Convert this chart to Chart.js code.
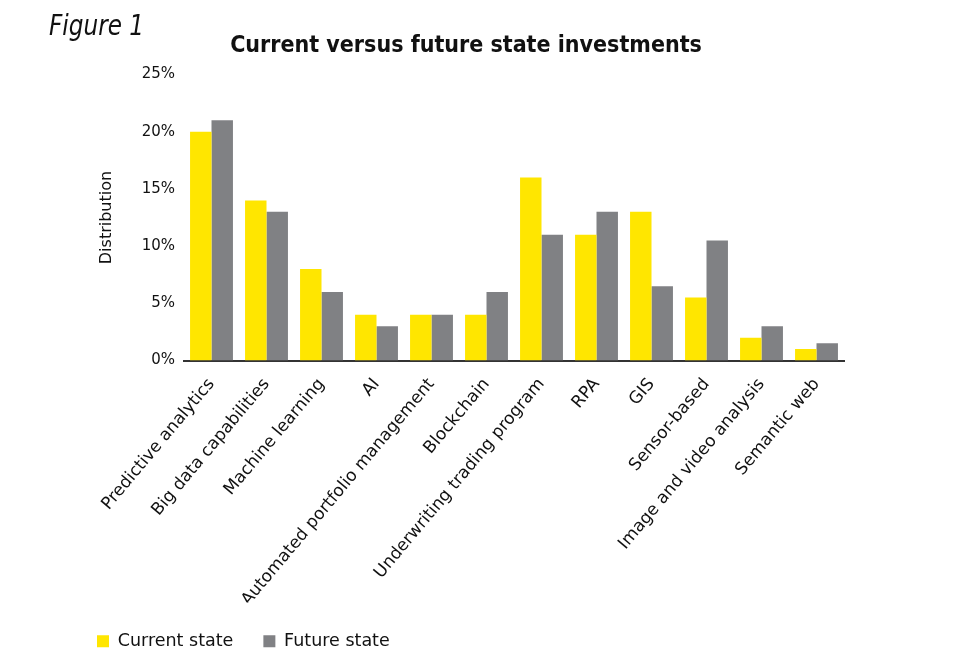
<!DOCTYPE html>
<html>
<head>
<meta charset="utf-8">
<script src="https://cdn.jsdelivr.net/npm/chart.js@4/dist/chart.umd.min.js"></script>
<style>
  html, body { margin: 0; padding: 0; background: #fff; }
  #wrap { position: relative; width: 953px; height: 668px; }
  #fig { position: absolute; left: 49px; top: 9px; font-family: "DejaVu Sans Condensed", "DejaVu Sans", sans-serif; font-style: italic; font-size: 28px; color: #111; transform: scaleX(0.92); transform-origin: left top; }
  canvas { position: absolute; left: 0; top: 0; }
</style>
</head>
<body>
<div id="wrap">
  <canvas id="c" width="953" height="668"></canvas>
  <div id="fig">Figure 1</div>
</div>
<script>
const categories = [
  "Predictive analytics", "Big data capabilities", "Machine learning", "AI",
  "Automated portfolio management", "Blockchain", "Underwriting trading program",
  "RPA", "GIS", "Sensor-based", "Image and video analysis", "Semantic web"
];
const currentState = [20, 14, 8, 4, 4, 4, 16, 11, 13, 5.5, 2, 1];
const futureState  = [21, 13, 6, 3, 4, 6, 11, 13, 6.5, 10.5, 3, 1.5];
const seriesNames = ["Current state", "Future state"];
const yTicks = [0, 5, 10, 15, 20, 25];

const FONT = "'DejaVu Sans', sans-serif";

const shiftLegend = {
  id: 'shiftLegend',
  beforeDraw(chart) {
    const lg = chart.legend;
    if (lg && lg._origLeft === undefined) {
      lg._origLeft = lg.left;
      lg.left = lg.left - 21;
    }
  }
};

new Chart(document.getElementById('c'), {
  type: 'bar',
  data: {
    labels: categories,
    datasets: [
      { label: seriesNames[0], data: currentState, backgroundColor: '#FFE600', borderWidth: 0 },
      { label: seriesNames[1], data: futureState, backgroundColor: '#808184', borderWidth: 0 }
    ]
  },
  plugins: [shiftLegend],
  options: {
    responsive: false,
    animation: false,
    devicePixelRatio: 1,
    categoryPercentage: 0.78,
    barPercentage: 1.0,
    layout: { padding: { left: 88, right: 109, top: 22, bottom: 8 } },
    plugins: {
      title: {
        display: true,
        text: 'Current versus future state investments',
        color: '#111',
        font: { family: "'DejaVu Sans Condensed', 'DejaVu Sans', sans-serif", size: 23, weight: 'bold' },
        padding: { top: 10, bottom: 15 }
      },
      legend: {
        position: 'bottom',
        align: 'start',
        labels: {
          color: '#111',
          font: { family: FONT, size: 17.5 },
          boxWidth: 12,
          boxHeight: 12,
          padding: 30
        }
      },
      tooltip: { enabled: false }
    },
    scales: {
      x: {
        grid: { display: false, drawTicks: false },
        border: { display: true, color: '#333', width: 2 },
        ticks: {
          color: '#111',
          font: { family: FONT, size: 17 },
          minRotation: 50,
          maxRotation: 50,
          autoSkip: false,
          padding: 14
        },
        afterFit: (s) => { s.height = 242; }
      },
      y: {
        min: 0,
        max: 25,
        afterBuildTicks: (s) => { s.ticks = yTicks.map(v => ({ value: v })); },
        grid: { display: false, drawTicks: false },
        border: { display: false },
        ticks: {
          color: '#111',
          font: { family: FONT, size: 15 },
          padding: 9,
          callback: (v) => v + '%'
        },
        title: {
          display: true,
          text: 'Distribution',
          color: '#111',
          font: { family: FONT, size: 16 },
          padding: { top: 9, bottom: 0 }
        },
        afterFit: (s) => { s.width = 96; }
      }
    }
  }
});
</script>
</body>
</html>
